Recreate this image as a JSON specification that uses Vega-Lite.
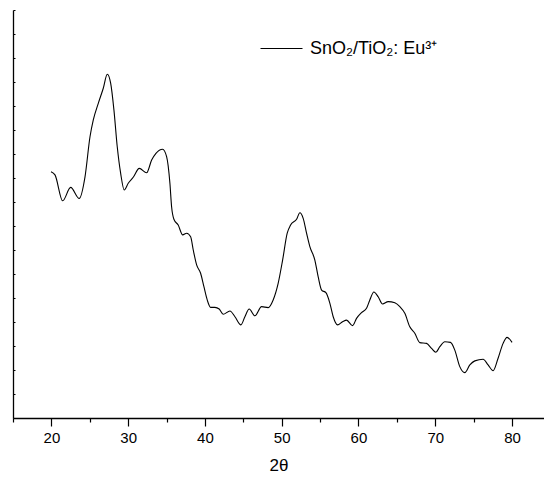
{
  "$schema": "https://vega.github.io/schema/vega-lite/v6.json",
  "width": 531,
  "height": 408,
  "autosize": {"type": "none"},
  "padding": {"left": 13, "top": 10, "right": 0, "bottom": 61},
  "background": "white",
  "config": {"view": {"stroke": null}, "font": "Liberation Sans"},
  "data": {"values": [
    {"t": 19.95, "i": 10.26}, {"t": 20.47, "i": 10.13}, {"t": 21.47, "i": 9.05}, {"t": 22.51, "i": 9.61},
    {"t": 23.63, "i": 9.15}, {"t": 24.38, "i": 10.05}, {"t": 25.03, "i": 11.72}, {"t": 25.46, "i": 12.42},
    {"t": 26.11, "i": 13.11}, {"t": 26.76, "i": 13.74}, {"t": 27.28, "i": 14.32}, {"t": 27.72, "i": 13.95},
    {"t": 28.15, "i": 12.83}, {"t": 28.58, "i": 11.30}, {"t": 29.02, "i": 10.20}, {"t": 29.49, "i": 9.50},
    {"t": 30.01, "i": 9.78}, {"t": 30.66, "i": 10.03}, {"t": 31.45, "i": 10.40}, {"t": 32.41, "i": 10.22},
    {"t": 33.06, "i": 10.75}, {"t": 33.62, "i": 11.03}, {"t": 34.49, "i": 11.20}, {"t": 35.01, "i": 10.89},
    {"t": 35.44, "i": 9.78}, {"t": 35.66, "i": 8.80}, {"t": 35.96, "i": 8.28}, {"t": 36.52, "i": 8.04},
    {"t": 37.10, "i": 7.63}, {"t": 37.62, "i": 7.70}, {"t": 38.14, "i": 7.55}, {"t": 38.48, "i": 7.00},
    {"t": 38.92, "i": 6.38}, {"t": 39.44, "i": 6.03}, {"t": 39.87, "i": 5.47}, {"t": 40.30, "i": 4.92},
    {"t": 40.74, "i": 4.61}, {"t": 41.30, "i": 4.61}, {"t": 41.86, "i": 4.54}, {"t": 42.38, "i": 4.32},
    {"t": 43.26, "i": 4.46}, {"t": 43.91, "i": 4.22}, {"t": 44.69, "i": 3.88}, {"t": 45.21, "i": 4.22},
    {"t": 45.77, "i": 4.54}, {"t": 46.51, "i": 4.26}, {"t": 47.38, "i": 4.64}, {"t": 48.24, "i": 4.60},
    {"t": 48.89, "i": 4.92}, {"t": 49.54, "i": 5.61}, {"t": 50.12, "i": 6.58}, {"t": 50.72, "i": 7.70},
    {"t": 51.16, "i": 8.04}, {"t": 51.94, "i": 8.28}, {"t": 52.37, "i": 8.55}, {"t": 52.80, "i": 8.32},
    {"t": 53.24, "i": 7.70}, {"t": 53.67, "i": 7.14}, {"t": 54.32, "i": 6.58}, {"t": 54.75, "i": 5.89},
    {"t": 55.20, "i": 5.33}, {"t": 55.76, "i": 5.22}, {"t": 56.28, "i": 4.78}, {"t": 56.71, "i": 4.22},
    {"t": 57.28, "i": 3.88}, {"t": 57.93, "i": 4.01}, {"t": 58.45, "i": 4.08}, {"t": 59.23, "i": 3.85},
    {"t": 59.75, "i": 4.15}, {"t": 60.40, "i": 4.39}, {"t": 61.05, "i": 4.57}, {"t": 61.48, "i": 4.92},
    {"t": 62.01, "i": 5.25}, {"t": 62.57, "i": 5.05}, {"t": 63.14, "i": 4.75}, {"t": 63.87, "i": 4.85},
    {"t": 64.74, "i": 4.80}, {"t": 65.39, "i": 4.64}, {"t": 66.04, "i": 4.36}, {"t": 66.69, "i": 3.80},
    {"t": 67.34, "i": 3.53}, {"t": 67.99, "i": 3.14}, {"t": 68.87, "i": 3.11}, {"t": 69.52, "i": 2.90},
    {"t": 70.08, "i": 2.74}, {"t": 70.60, "i": 2.97}, {"t": 71.25, "i": 3.18}, {"t": 71.99, "i": 3.15},
    {"t": 72.55, "i": 2.83}, {"t": 73.20, "i": 2.14}, {"t": 73.85, "i": 1.89}, {"t": 74.51, "i": 2.21},
    {"t": 75.16, "i": 2.38}, {"t": 76.24, "i": 2.45}, {"t": 76.89, "i": 2.21}, {"t": 77.54, "i": 1.97},
    {"t": 78.19, "i": 2.49}, {"t": 78.84, "i": 3.11}, {"t": 79.36, "i": 3.36}, {"t": 80.01, "i": 3.15}
  ]},
  "transform": [{"calculate": "'SnO₂/TiO₂: Eu³⁺'", "as": "series"}],
  "mark": {"type": "line", "interpolate": "monotone", "strokeWidth": 1.1, "clip": true},
  "encoding": {
    "x": {
      "field": "t", "type": "quantitative",
      "scale": {"domain": [15, 84.17], "nice": false, "zero": false},
      "axis": {
        "title": "2θ",
        "titleFont": "Liberation Sans", "titleFontSize": 17, "titleFontWeight": "normal", "titleColor": "black",
        "titlePadding": 12,
        "values": [15, 20, 25, 30, 35, 40, 45, 50, 55, 60, 65, 70, 75, 80],
        "labelExpr": "datum.value % 10 === 0 ? datum.label : ''",
        "labelFont": "Liberation Sans", "labelFontSize": 15, "labelColor": "black", "labelPadding": 4,
        "labelFlush": false,
        "tickSize": {"condition": {"test": "datum.value % 10 === 0", "value": 8}, "value": 4},
        "tickColor": "black", "tickWidth": 1.2,
        "domainColor": "black", "domainWidth": 1.3,
        "grid": false
      }
    },
    "y": {
      "field": "i", "type": "quantitative",
      "scale": {"domain": [0, 17], "nice": false},
      "axis": {
        "title": null, "labels": false,
        "values": [0, 1, 2, 3, 4, 5, 6, 7, 8, 9, 10, 11, 12, 13, 14, 15, 16, 17],
        "tickSize": -2, "tickColor": "black", "tickWidth": 1,
        "domainColor": "black", "domainWidth": 1.3,
        "grid": false
      }
    },
    "color": {
      "field": "series", "type": "nominal",
      "scale": {"range": ["black"]},
      "legend": {
        "title": null, "orient": "none", "legendX": 247, "legendY": 17,
        "symbolType": "stroke", "symbolSize": 1764, "symbolStrokeWidth": 1, "symbolStrokeColor": "black",
        "labelFont": "Liberation Sans", "labelFontSize": 18, "labelColor": "black", "labelOffset": 7,
        "padding": 0
      }
    }
  }
}
